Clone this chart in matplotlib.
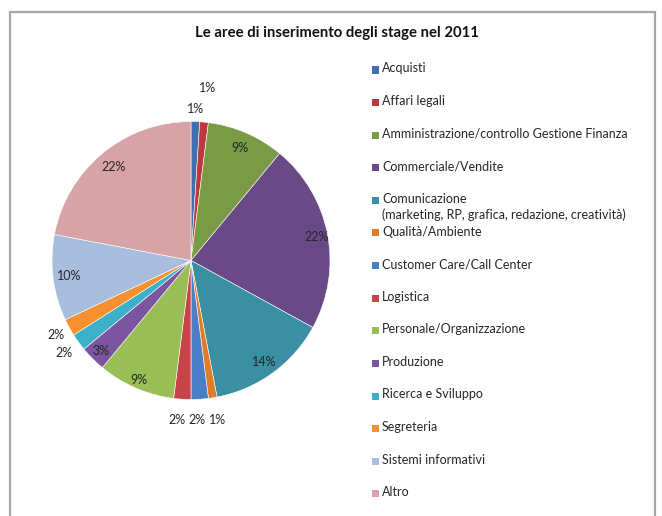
import numpy as np
import matplotlib.pyplot as plt
from matplotlib.patches import Rectangle

# Data
categories = [
    "Acquisti",
    "Affari legali",
    "Amministrazione/controllo Gestione Finanza",
    "Commerciale/Vendite",
    "Comunicazione\n(marketing, RP, grafica, redazione, creatività)",
    "Qualità/Ambiente",
    "Customer Care/Call Center",
    "Logistica",
    "Personale/Organizzazione",
    "Produzione",
    "Ricerca e Sviluppo",
    "Segreteria",
    "Sistemi informativi",
    "Altro",
]
shares = [1, 1, 9, 22, 14, 1, 2, 2, 9, 3, 2, 2, 10, 22]
labels = [f"{v}%" for v in shares]

colors = ["#3F6FAE", "#BE3A3A", "#7A9A45", "#6A4A86", "#3A8FA3", "#E07B2A", "#4A7FC8",
          "#C8444A", "#98BE55", "#7B559F", "#3BB0C8", "#F7902F", "#A9BEDF", "#D8A3A6"]

# label placement: radial distance (pie radii) and small angular nudge (deg)
label_dist = [1.09, 1.25, 0.88, 0.92, 0.90, 1.16, 1.15, 1.15, 0.94, 0.92, 1.13, 1.11, 0.88, 0.87]
label_nudge = [0, 0, 0, 0, 0, 0.3, -1.6, -1.6, 0, 0, 0, 0, 0, 0]

plt.rcParams['font.family'] = ['Lato', 'DejaVu Sans']

W, H = 662, 516
fig = plt.figure(figsize=(W / 100, H / 100), dpi=100)
fig.patch.set_facecolor("white")

# chart-area frame
fig.patches.append(Rectangle((10 / W, -0.05), 645 / W, 1.05 - 12 / H, transform=fig.transFigure,
                             fill=False, edgecolor="#A6A6A6", lw=1.6))

fig.text(337 / W, 1 - 33 / H, "Le aree di inserimento degli stage nel 2011",
         ha="center", va="center", fontsize=10.7, fontweight="bold", color="#111111")

# pie
cx, cy, r = 191, 260.5, 139
ax = fig.add_axes([(cx - r) / W, 1 - (cy + r) / H, 2 * r / W, 2 * r / H])
wedges, _ = ax.pie(shares, colors=colors, startangle=90, counterclock=False,
                   wedgeprops=dict(edgecolor="white", linewidth=0.4))
ax.set_xlim(-1, 1)
ax.set_ylim(-1, 1)
ax.set_aspect("equal")
ax.axis("off")

for w, lab, d, nd in zip(wedges, labels, label_dist, label_nudge):
    ang = np.deg2rad((w.theta1 + w.theta2) / 2 + nd)
    ax.text(d * np.cos(ang), d * np.sin(ang), lab, ha="center", va="center",
            fontsize=9, color="#262626", clip_on=False)

# legend
y0, step = 70, 32.6
for i, (cat, col) in enumerate(zip(categories, colors)):
    y = y0 + i * step
    fig.patches.append(Rectangle((372 / W, 1 - (y + 3.5) / H), 7 / W, 7 / H,
                                 transform=fig.transFigure, facecolor=col, edgecolor="none"))
    fig.text(382 / W, 1 - (y - 7.5) / H, cat, ha="left", va="top", fontsize=9,
             color="#262626", linespacing=1.3)

fig.savefig("out.png", dpi=100)
